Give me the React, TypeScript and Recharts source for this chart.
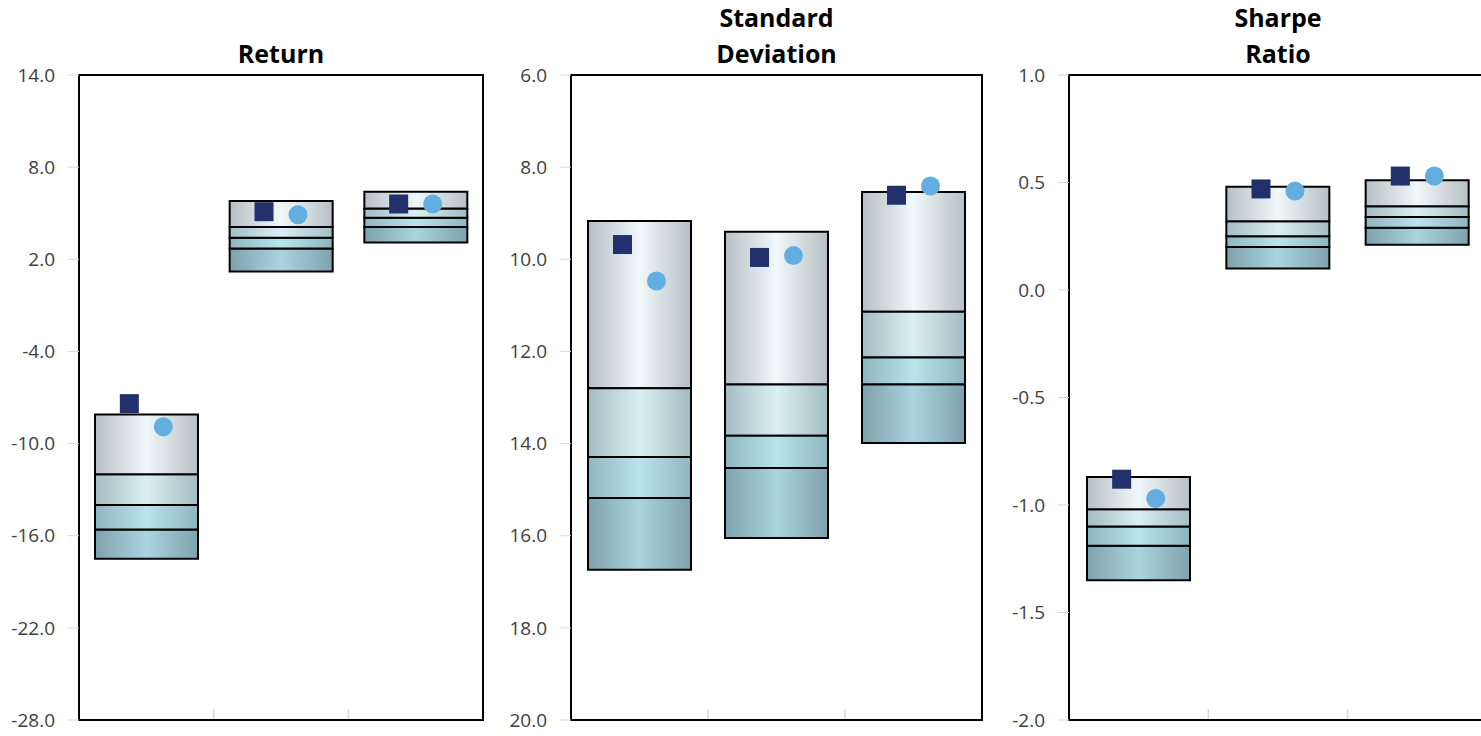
import { Bar, ComposedChart, ReferenceArea, Scatter, XAxis, YAxis } from "recharts";

// three peer groups, no labels shown on the x axis
const categories = ["Group 1", "Group 2", "Group 3"];

// Return: box edges from top to bottom of the box
const retP05 = [-8.1, 5.8, 6.4];
const retP25 = [-12.0, 4.1, 5.3];
const retP50 = [-14.0, 3.4, 4.7];
const retP75 = [-15.6, 2.7, 4.1];
const retP95 = [-17.5, 1.2, 3.1];
const retSquare = [-7.4, 5.1, 5.6];
const retCircle = [-8.9, 4.9, 5.6];
const retTicks = [-28, -22, -16, -10, -4, 2, 8, 14];

// Standard deviation (axis reversed)
const sdP05 = [9.17, 9.4, 8.54];
const sdP25 = [12.8, 12.72, 11.14];
const sdP50 = [14.29, 13.83, 12.13];
const sdP75 = [15.18, 14.53, 12.72];
const sdP95 = [16.74, 16.05, 13.99];
const sdSquare = [9.68, 9.96, 8.61];
const sdCircle = [10.47, 9.92, 8.41];
const sdTicks = [6, 8, 10, 12, 14, 16, 18, 20];

// Sharpe ratio
const shP05 = [-0.87, 0.48, 0.51];
const shP25 = [-1.02, 0.32, 0.39];
const shP50 = [-1.1, 0.25, 0.34];
const shP75 = [-1.19, 0.2, 0.29];
const shP95 = [-1.35, 0.1, 0.21];
const shSquare = [-0.88, 0.47, 0.53];
const shCircle = [-0.97, 0.46, 0.53];
const shTicks = [-2, -1.5, -1, -0.5, 0, 0.5, 1];

// segments in screen order, top to bottom
const SEGS = [
  { key: "s1", edge: "#b6bfc3", mid: "#f0f8fa" },
  { key: "s2", edge: "#a3bdc2", mid: "#d9eff3" },
  { key: "s3", edge: "#8eb6be", mid: "#b9e4ea" },
  { key: "s4", edge: "#7ea2ad", mid: "#aad4e0" },
];

const FONT = '"Open Sans", "Noto Sans", sans-serif';

function buildRows(
  p05: number[], p25: number[], p50: number[], p75: number[], p95: number[],
  sq: number[], ci: number[]
) {
  return categories.map((name, i) => ({
    name,
    base: Math.min(p05[i], p95[i]),
    s1: Math.abs(p25[i] - p05[i]),
    s2: Math.abs(p50[i] - p25[i]),
    s3: Math.abs(p75[i] - p50[i]),
    s4: Math.abs(p95[i] - p75[i]),
    sq: sq[i],
    ci: ci[i],
  }));
}

const SquareDot = (p: any) =>
  p.cx == null ? null : (
    <rect x={p.cx - 17 - 9.5} y={p.cy - 9.5} width={19} height={19} fill="#22316c" />
  );

const CircleDot = (p: any) =>
  p.cx == null ? null : <circle cx={p.cx + 17} cy={p.cy} r={9.5} fill="#62aee1" />;

type PanelProps = {
  id: string;
  title: string[];
  left: number;
  width: number;
  yWidth: number;
  marginRight: number;
  rows: any[];
  ticks: number[];
  domain: [number, number];
  reversed?: boolean;
};

function Panel({ id, title, left, width, yWidth, marginRight, rows, ticks, domain, reversed }: PanelProps) {
  // stack always grows from the smaller value, so the order flips on a reversed axis
  const order = reversed ? SEGS : [...SEGS].reverse();
  const halfBand = (width - yWidth - marginRight) / categories.length / 2;

  // small grey mark on the bottom axis between two categories
  const boundaryTick = (p: any) => {
    const i = p.index ?? p.payload?.index ?? 0;
    if (!i) return <g />;
    const x = p.x - halfBand;
    return <line x1={x} x2={x} y1={p.y - 1} y2={p.y - 11} stroke="#d9d9d9" strokeWidth={1.5} />;
  };

  return (
    <div style={{ position: "absolute", left, top: 0, width, height: 736 }}>
      <div
        style={{
          position: "absolute",
          left: yWidth,
          right: marginRight,
          top: title.length === 1 ? 35 : -1,
          textAlign: "center",
          fontFamily: FONT,
          fontWeight: 700,
          fontSize: 25,
          lineHeight: "36px",
          color: "#000",
        }}
      >
        {title.map((t) => (
          <div key={t}>{t}</div>
        ))}
      </div>
      <ComposedChart
        width={width}
        height={736}
        data={rows}
        margin={{ top: 75, right: marginRight, bottom: 15, left: 0 }}
      >
        <defs>
          {SEGS.map((s) => (
            <linearGradient key={s.key} id={`${id}-${s.key}`} x1="0" y1="0" x2="1" y2="0">
              <stop offset="0%" stopColor={s.edge} />
              <stop offset="50%" stopColor={s.mid} />
              <stop offset="100%" stopColor={s.edge} />
            </linearGradient>
          ))}
        </defs>
        <XAxis
          dataKey="name"
          height={1}
          tickSize={0}
          tickMargin={0}
          tickLine={false}
          axisLine={false}
          interval={0}
          tick={boundaryTick}
        />
        <YAxis
          width={yWidth}
          domain={domain}
          ticks={ticks}
          reversed={reversed}
          allowDataOverflow
          interval={0}
          tickFormatter={(v: number) => v.toFixed(1)}
          tickSize={11}
          tickMargin={13}
          tickLine={{ stroke: "#d9d9d9" }}
          axisLine={false}
          tick={{ fontSize: 19, fill: "#404040", fontFamily: FONT }}
        />
        <ReferenceArea
          y1={domain[0]}
          y2={domain[1]}
          fill="none"
          stroke="#000"
          strokeWidth={2}
          ifOverflow="visible"
        />
        <Bar dataKey="base" stackId="box" fill="none" barSize={103} isAnimationActive={false} />
        {order.map((s) => (
          <Bar
            key={s.key}
            dataKey={s.key}
            stackId="box"
            fill={`url(#${id}-${s.key})`}
            stroke="#000"
            strokeWidth={2}
            barSize={103}
            isAnimationActive={false}
          />
        ))}
        <Scatter dataKey="sq" shape={SquareDot} isAnimationActive={false} />
        <Scatter dataKey="ci" shape={CircleDot} isAnimationActive={false} />
      </ComposedChart>
    </div>
  );
}

export default function App() {
  const retRows = buildRows(retP05, retP25, retP50, retP75, retP95, retSquare, retCircle);
  const sdRows = buildRows(sdP05, sdP25, sdP50, sdP75, sdP95, sdSquare, sdCircle);
  const shRows = buildRows(shP05, shP25, shP50, shP75, shP95, shSquare, shCircle);

  return (
    <div
      style={{
        position: "absolute",
        left: 0,
        top: 0,
        width: 1481,
        height: 736,
        overflow: "hidden",
        background: "#fff",
      }}
    >
      <Panel
        id="ret"
        title={["Return"]}
        left={0}
        width={500}
        yWidth={79}
        marginRight={17}
        rows={retRows}
        ticks={retTicks}
        domain={[-28, 14]}
      />
      <Panel
        id="sd"
        title={["Standard", "Deviation"]}
        left={490}
        width={500}
        yWidth={81}
        marginRight={8}
        rows={sdRows}
        ticks={sdTicks}
        domain={[6, 20]}
        reversed
      />
      <Panel
        id="sh"
        title={["Sharpe", "Ratio"]}
        left={990}
        width={510}
        yWidth={79}
        marginRight={13}
        rows={shRows}
        ticks={shTicks}
        domain={[-2, 1]}
      />
    </div>
  );
}
